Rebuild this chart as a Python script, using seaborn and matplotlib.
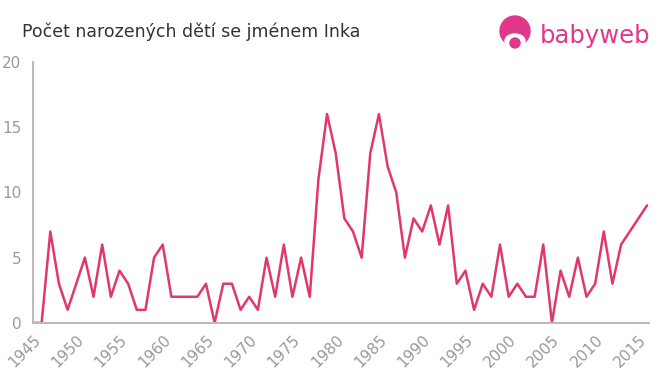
import numpy as np
import pandas as pd
import matplotlib
matplotlib.use('Agg')
import matplotlib.pyplot as plt
import seaborn as sns
from matplotlib.patches import Circle, Ellipse

years = list(range(1945, 2017))
counts = [0, 0, 7, 3, 1, 3, 5, 2, 6, 2,
          4, 3, 1, 1, 5, 6, 2, 2, 2, 2,
          3, 0, 3, 3, 1, 2, 1, 5, 2, 6,
          2, 5, 2, 11, 16, 13, 8, 7, 5, 13,
          16, 12, 10, 5, 8, 7, 9, 6, 9, 3,
          4, 1, 3, 2, 6, 2, 3, 2, 2, 6,
          0, 4, 2, 5, 2, 3, 7, 3, 6, 7,
          8, 9]
xticks = list(range(1945, 2016, 5))
yticks = [0, 5, 10, 15, 20]

df = pd.DataFrame({'rok': years, 'pocet': counts})

sns.set_style('white')
plt.rcParams['font.family'] = ['DejaVu Sans']

fig = plt.figure(figsize=(6.6, 3.75), dpi=100)
ax = fig.add_axes([0.05, 0.139, 0.933, 0.696])

sns.lineplot(data=df, x='rok', y='pocet', ax=ax, color='#e0386d', linewidth=1.8)

ax.set_xlim(1945, 2016.2)
ax.set_ylim(0, 20)
ax.set_xticks(xticks)
ax.set_yticks(yticks)
ax.set_xticklabels([str(t) for t in xticks], rotation=45, ha='right', rotation_mode='anchor')
ax.set_xlabel('')
ax.set_ylabel('')
ax.tick_params(axis='both', colors='#bbbbbb', labelcolor='#999999', labelsize=11,
               length=5, width=1.2, direction='out')
ax.tick_params(axis='x', pad=2)
for s in ['top', 'right']:
    ax.spines[s].set_visible(False)
for s in ['left', 'bottom']:
    ax.spines[s].set_color('#bbbbbb')
    ax.spines[s].set_linewidth(1.5)
ax.grid(False)

fig.text(0.033, 0.915, 'Počet narozených dětí se jménem Inka', fontsize=12.5,
         color='#333333', va='center', ha='left')

# logo
logo_col = '#e0388a'
fig.patches.append(Circle((515, 344), 15, transform=None, color=logo_col))
fig.patches.append(Ellipse((515, 334), 20, 14, transform=None, color='white'))
fig.patches.append(Circle((515, 332), 5, transform=None, color=logo_col))
fig.text(0.818, 0.905, 'babyweb', fontsize=17.5, color=logo_col, va='center', ha='left')

fig.savefig('out.png', dpi=100)
